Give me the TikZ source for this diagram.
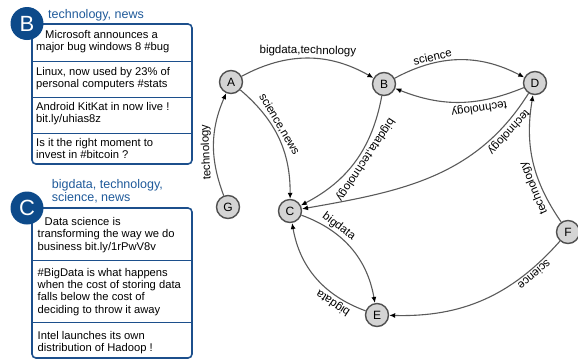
\documentclass[tikz,border=0pt]{standalone}
\usepackage{fontspec}
\setmainfont{Liberation Sans}
\usetikzlibrary{arrows.meta}
\definecolor{edgegray}{HTML}{5A5A5A}
\definecolor{nodefill}{HTML}{D4D4D4}
\definecolor{nodeline}{HTML}{505050}
\definecolor{boxblue}{HTML}{1C4F8C}
\definecolor{badgeblue}{HTML}{0D4A8A}
\definecolor{tagblue}{HTML}{1F5A9A}
\begin{document}
\begin{tikzpicture}[x=1pt,y=1pt,
  gnode/.style={circle, draw=nodeline, fill=nodefill, line width=1.4pt, minimum size=23pt, inner sep=0pt, font=\fontsize{12}{12}\selectfont},
  link/.style={draw=edgegray, line width=1.1pt, -{Latex[length=6pt,width=5pt,color=black]}},
  lab/.style={sloped, allow upside down, above, inner sep=1.5pt, font=\fontsize{11.5}{12}\selectfont, text=black},
  tweetbox/.style={draw=boxblue, line width=1.6pt, rounded corners=4pt},
  divider/.style={draw=boxblue, line width=1pt},
  badge/.style={circle, fill=badgeblue, minimum size=33pt, inner sep=0pt, text=white, font=\fontsize{22}{22}\selectfont},
  tag/.style={anchor=base west, inner sep=0pt, text=tagblue, font=\fontsize{12.5}{13.3}\selectfont, align=left},
  tweet/.style={anchor=base west, inner sep=0pt, align=left, font=\fontsize{11.2}{12.4}\selectfont},
]
\useasboundingbox (0,0) rectangle (578,-360);

% graph nodes
\node[gnode] (A) at (231,-82) {A};
\node[gnode] (B) at (384,-84) {B};
\node[gnode] (D) at (535,-83) {D};
\node[gnode] (C) at (290,-211) {C};
\node[gnode] (G) at (228,-207) {G};
\node[gnode] (E) at (377,-315) {E};
\node[gnode] (F) at (568,-232) {F};

% edges
\draw[link] (A) to[bend left=29] node[lab]{bigdata,technology} (B);
\draw[link] (B) to[bend left=28] node[lab,pos=0.3]{science} (D);
\draw[link] (D) to[bend left=22] node[lab,pos=0.35]{technology} (B);
\draw[link] (A) to[bend left=25] node[lab,pos=0.4]{science,news} (C);
\draw[link] (G) to[bend left=22] node[lab,pos=0.42]{technology} (A);
\draw[link] (B) to[bend left=26] node[lab,pos=0.45]{bigdata,technology} (C);
\draw[link] (D) to[out=238,in=10] node[lab,pos=0.15]{technology} (C);
\draw[link] (F) to[bend left=22] node[lab,pos=0.3]{technology} (D);
\draw[link] (F) to[bend left=25] node[lab,pos=0.2]{science} (E);
\draw[link] (C) to[bend left=30] node[lab,pos=0.3]{bigdata} (E);
\draw[link] (E) to[bend left=30] node[lab,pos=0.25]{bigdata} (C);

% box B
\draw[tweetbox] (32,-24) rectangle (192,-164);
\draw[divider] (32,-61) -- (192,-61);
\draw[divider] (32,-97) -- (192,-97);
\draw[divider] (32,-133) -- (192,-133);
\node[badge] (bB) at (27,-23.5) {B};
\node[tag] (tB) at (48,-18) {technology, news};
\node[tweet] (b1) at (36,-50.9) {\hspace*{9pt}Microsoft announces a\\major bug windows 8 \#bug};
\node[tweet] (b2) at (36,-87.6) {Linux, now used by 23\% of\\personal computers \#stats};
\node[tweet] (b3) at (36,-122.9) {Android KitKat in now live !\\bit.ly/uhias8z};
\node[tweet] (b4) at (36,-158.9) {Is it the right moment to\\invest in \#bitcoin ?};

% box C
\draw[tweetbox] (32,-208) rectangle (192,-358);
\draw[divider] (32,-260) -- (192,-260);
\draw[divider] (32,-322.5) -- (192,-322.5);
\node[badge] (bC) at (27,-208) {C};
\node[tag] (tC) at (51.7,-201.8) {bigdata, technology,\\science, news};
\node[tweet] (c1) at (37.5,-250.3) {\hspace*{7pt}Data science is\\transforming the way we do\\business bit.ly/1rPwV8v};
\node[tweet] (c2) at (37.5,-313.2) {\#BigData is what happens\\when the cost of storing data\\falls below the cost of\\deciding to throw it away};
\node[tweet] (c3) at (37.5,-351.9) {Intel launches its own\\distribution of Hadoop !};
\end{tikzpicture}
\end{document}
